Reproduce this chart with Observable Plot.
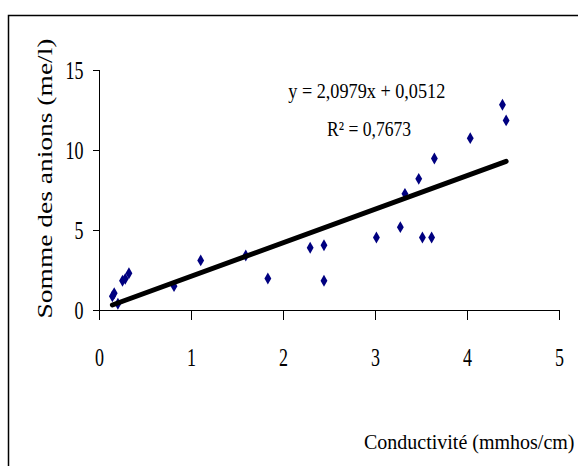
<!DOCTYPE html>
<html>
<head>
<meta charset="utf-8">
<script src="https://cdn.jsdelivr.net/npm/d3@7"></script>
<script src="https://cdn.jsdelivr.net/npm/@observablehq/plot@0.6"></script>
<style>
  html, body { margin: 0; padding: 0; background: #fff; }
  #chart svg { display: block; }
</style>
</head>
<body>
<div id="chart"></div>
<script>
// Conductivité (mmhos/cm) and somme des anions (me/l) for each sample
const conductivite = [0.14, 0.16, 0.20, 0.25, 0.28, 0.32, 0.81, 1.10, 1.59, 1.83, 2.29, 2.44, 2.44, 3.01, 3.27, 3.32, 3.47, 3.51, 3.61, 3.64, 4.03, 4.38, 4.42];
const anions       = [0.89, 1.08, 0.42, 1.86, 1.98, 2.33, 1.52, 3.13, 3.44, 2.00, 3.92, 4.08, 1.86, 4.56, 5.21, 7.29, 8.23, 4.56, 4.56, 9.50, 10.77, 12.86, 11.88];

// Linear trend line
const pente = 2.0979;
const ordonnee = 0.0512;
const r2 = 0.7673;

const xTicks = [0, 1, 2, 3, 4, 5];
const yTicks = [0, 5, 10, 15];
const xLabel = "Conductivité (mmhos/cm)";
const yLabel = "Somme des anions (me/l)";

const fr = (v, d) => v.toFixed(d).replace(".", ",");
const equation = `y = ${fr(pente, 4)}x + ${fr(ordonnee, 4)}`;
const r2Text = `R² = ${fr(r2, 4)}`;

const points = conductivite.map((c, i) => ({c, a: anions[i]}));
const [cMin, cMax] = d3.extent(conductivite);
const trend = [cMin, cMax].map(c => ({c, a: pente * c + ordonnee}));

const font = "'Liberation Serif', 'Times New Roman', serif";

const chart = Plot.plot({
  width: 578,
  height: 466,
  marginLeft: 99,
  marginRight: 19,
  marginTop: 70,
  marginBottom: 156,
  style: {fontFamily: font, fontSize: "26px", color: "#000", background: "#fff"},
  x: {domain: [0, 5], ticks: xTicks, tickFormat: d3.format("d"), tickSize: 10, tickPadding: 27, label: null},
  y: {domain: [0, 15], ticks: yTicks, tickFormat: d3.format("d"), tickSize: 6, tickPadding: 10, label: null},
  marks: [
    Plot.ruleY([0], {stroke: "#000", strokeWidth: 1}),
    Plot.ruleX([0], {stroke: "#000", strokeWidth: 1}),
    Plot.dot(points, {x: "c", y: "a", symbol: "diamond", r: 3.6, fill: "#000080", stroke: "none"}),
    Plot.line(trend, {x: "c", y: "a", stroke: "#000", strokeWidth: 5}),
    Plot.text([equation], {x: 2.905, y: 13.75, text: d => d, fontSize: 22, textAnchor: "middle"}),
    Plot.text([r2Text], {x: 2.93, y: 11.35, text: d => d, fontSize: 22, textAnchor: "middle"}),
    Plot.text([xLabel], {frameAnchor: "bottom-right", text: d => d, textAnchor: "end", lineAnchor: "bottom", dx: 15, dy: 138, fontSize: 20}),
    Plot.text([yLabel], {frameAnchor: "left", text: d => d, rotate: -90, textAnchor: "middle", lineAnchor: "middle", dx: -54, dy: -12, fontSize: 21})
  ]
});

const svg = d3.select(chart);

// Narrow serif look for the texts
const narrow = {
  [equation]: 157,
  [r2Text]: 84,
  [yLabel]: 280
};
svg.selectAll("text").each(function () {
  const t = this.textContent;
  if (narrow[t] !== undefined) {
    d3.select(this).attr("textLength", narrow[t]).attr("lengthAdjust", "spacingAndGlyphs");
  } else if (/^\d+$/.test(t)) {
    d3.select(this).attr("textLength", t.length * 9).attr("lengthAdjust", "spacingAndGlyphs");
  }
});

// Chart area border
svg.append("rect")
  .attr("x", 8.5).attr("y", 15.5)
  .attr("width", 620).attr("height", 520)
  .attr("fill", "none").attr("stroke", "#000").attr("stroke-width", 1.5);

document.getElementById("chart").appendChild(chart);
</script>
</body>
</html>
